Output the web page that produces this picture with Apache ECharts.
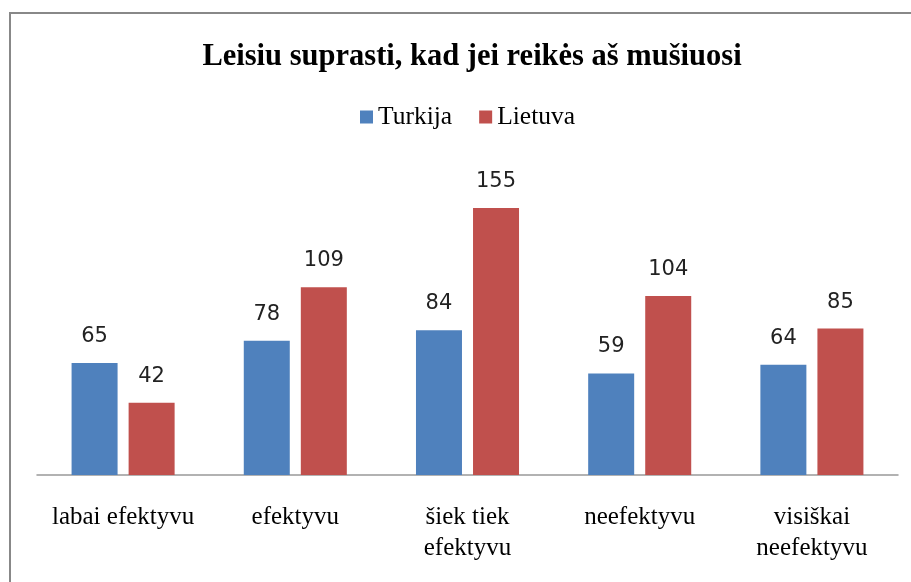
<!DOCTYPE html>
<html>
<head>
<meta charset="utf-8">
<script src="https://cdn.jsdelivr.net/npm/echarts@6/dist/echarts.min.js"></script>
<style>
  html, body { margin: 0; padding: 0; background: #fff; }
  #main { width: 911px; height: 582px; }
</style>
</head>
<body>
<div id="main"></div>
<script>
// duomenys
var categories = ['labai efektyvu', 'efektyvu', 'šiek tiek\nefektyvu', 'neefektyvu', 'visiškai\nneefektyvu'];
var turkija = [65, 78, 84, 59, 64];
var lietuva = [42, 109, 155, 104, 85];
var seriesNames = ['Turkija', 'Lietuva'];

var chart = echarts.init(document.getElementById('main'));
var labelStyle = {
  show: true,
  position: 'top',
  distance: 16,
  fontFamily: 'DejaVu Sans',
  fontSize: 21,
  color: '#222'
};
chart.setOption({
  backgroundColor: '#fff',
  animation: false,
  title: {
    text: 'Leisiu suprasti, kad jei reikės aš mušiuosi',
    left: 467,
    textAlign: 'center',
    top: 37,
    textStyle: {
      fontFamily: 'Liberation Serif',
      fontWeight: 'bold',
      fontSize: 30.5,
      color: '#000'
    }
  },
  legend: {
    data: seriesNames,
    left: 355,
    top: 99,
    itemWidth: 13,
    itemHeight: 13,
    itemGap: 27,
    icon: 'rect',
    textStyle: {
      fontFamily: 'Liberation Serif',
      fontSize: 25.5,
      color: '#000'
    }
  },
  grid: {
    left: 37,
    right: 13,
    top: 165,
    bottom: 107,
    containLabel: false
  },
  xAxis: {
    type: 'category',
    data: categories,
    axisLine: { lineStyle: { color: '#999', width: 1.5 } },
    axisTick: { show: false },
    axisLabel: {
      margin: 27,
      fontFamily: 'Liberation Serif',
      fontSize: 25,
      lineHeight: 31,
      color: '#000',
      interval: 0
    }
  },
  yAxis: {
    type: 'value',
    min: 0,
    max: 180,
    show: false,
    splitLine: { show: false }
  },
  series: [
    {
      name: 'Turkija',
      type: 'bar',
      data: turkija,
      barWidth: 46,
      barGap: '24%',
      itemStyle: { color: '#4F81BD' },
      label: labelStyle
    },
    {
      name: 'Lietuva',
      type: 'bar',
      data: lietuva,
      barWidth: 46,
      itemStyle: { color: '#C0504D' },
      label: labelStyle
    }
  ],
  graphic: [{
    type: 'rect',
    shape: { x: 10, y: 13, width: 1000, height: 1000 },
    style: { fill: null, stroke: '#888', lineWidth: 2 },
    silent: true
  }]
});
</script>
</body>
</html>
